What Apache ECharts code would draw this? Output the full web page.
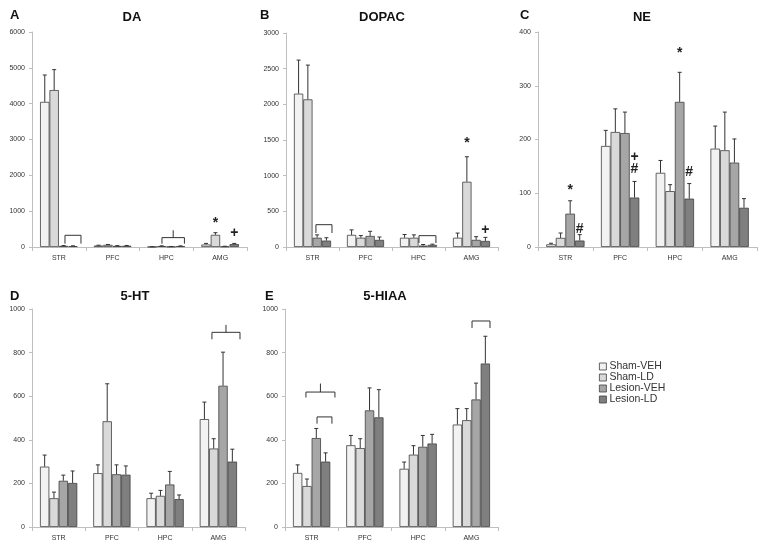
<!DOCTYPE html>
<html>
<head>
<meta charset="utf-8">
<script src="https://cdn.jsdelivr.net/npm/echarts@6/dist/echarts.min.js"></script>
<style>
html,body{margin:0;padding:0;background:#fff;}
#chart{width:760px;height:548px;}
</style>
</head>
<body>
<div id="chart"></div>
<script>
// ---- data ----
const categories = ['STR', 'PFC', 'HPC', 'AMG'];
const groups = ['Sham-VEH', 'Sham-LD', 'Lesion-VEH', 'Lesion-LD'];

// DA
const daMean = [[4050, 40, 5, 70], [4380, 60, 25, 340], [30, 30, 10, 15], [25, 35, 25, 80]];
const daErr  = [[750, 10, 3, 30], [570, 10, 8, 60], [10, 8, 4, 6], [8, 8, 6, 20]];
// DOPAC
const dopacMean = [[2150, 170, 130, 130], [2070, 130, 130, 915], [130, 155, 20, 100], [90, 100, 30, 85]];
const dopacErr  = [[470, 70, 45, 65], [480, 30, 40, 350], [40, 65, 15, 45], [40, 40, 10, 50]];
// NE
const neMean = [[5, 188, 138, 183], [17, 214, 104, 180], [62, 212, 270, 157], [12, 92, 90, 73]];
const neErr  = [[2, 29, 23, 42], [9, 43, 12, 71], [24, 39, 55, 44], [11, 30, 28, 17]];
// 5-HT
const htMean = [[277, 247, 132, 495], [132, 485, 143, 360], [212, 242, 195, 648], [202, 240, 128, 300]];
const htErr  = [[53, 38, 23, 78], [28, 172, 25, 45], [26, 43, 60, 154], [55, 40, 19, 57]];
// 5-HIAA
const hiaaMean = [[248, 375, 267, 470], [188, 362, 332, 490], [408, 535, 368, 585], [300, 503, 383, 750]];
const hiaaErr  = [[37, 45, 31, 73], [32, 43, 41, 53], [44, 103, 52, 75], [40, 127, 42, 125]];

// significance symbols: [category, bar index, y value, text]
const daMarks = [[3, 1, 654, '*'], [3, 3, 393, '+']];
const dopacMarks = [[3, 1, 1458, '*'], [3, 3, 243, '+']];
const neMarks = [[0, 2, 105, '*'], [0, 3, 33, '#'], [1, 3, 167, '+'], [1, 3, 145, '#'], [2, 2, 361, '*'], [2, 3, 139, '#']];
const htMarks = [];
const hiaaMarks = [];

// brackets: [category, from (bar units), to (bar units), top value, end value, middle tick value or -1]
const daBrackets = [[0, 2.65, 4.35, 327, 93, -1], [2, 1.53, 3.92, 262, 93, 467]];
const dopacBrackets = [[0, 2.37, 4.1, 313, 196, -1], [2, 2.05, 3.88, 159, 56, -1]];
const neBrackets = [];
const htBrackets = [[3, 1.31, 4.32, 893, 861, 927]];
const hiaaBrackets = [[0, 1.39, 4.5, 619, 594, 658], [0, 2.58, 4.18, 505, 474, -1], [3, 2.07, 4.0, 945, 913, -1]];

const panelTitles = ['DA', 'DOPAC', 'NE', '5-HT', '5-HIAA'];
const panelLetters = ['A', 'B', 'C', 'D', 'E'];
const yMax = [6000, 3000, 400, 1000, 1000];
const yStep = [1000, 500, 100, 200, 200];

// ---- styling / layout ----
const colors = ['#f2f2f2', '#d9d9d9', '#a6a6a6', '#7f7f7f'];
const grids = [
  {left: 32, top: 32, width: 215, height: 215},
  {left: 286, top: 33, width: 212, height: 214},
  {left: 538, top: 32, width: 219, height: 215},
  {left: 32, top: 309, width: 213, height: 218},
  {left: 285, top: 309, width: 213, height: 218}
];
const titlePos = [[127, 6], [377, 6], [637, 6], [130, 285], [380, 285]];
const letterPos = [[5, 4], [255, 4], [515, 4], [5, 285], [260, 285]];
const GAP = 0.3;
const FONT = 'Liberation Sans';

const panels = [
  [daMean, daErr, daMarks, daBrackets],
  [dopacMean, dopacErr, dopacMarks, dopacBrackets],
  [neMean, neErr, neMarks, neBrackets],
  [htMean, htErr, htMarks, htBrackets],
  [hiaaMean, hiaaErr, hiaaMarks, hiaaBrackets]
];

function geom(api, c) {
  const catW = api.size([1, 0])[0];
  const barW = catW * (1 - GAP) / 4;
  const start = api.coord([c, 0])[0] - catW * (1 - GAP) / 2;
  return {barW, start};
}

function errRender(params, api) {
  const c = api.value(0), s = api.value(1);
  const g = geom(api, c);
  const cx = g.start + g.barW * (s + 0.5);
  const y0 = api.coord([c, api.value(2)])[1];
  const y1 = api.coord([c, api.value(3)])[1];
  const st = {stroke: '#333', lineWidth: 1};
  return {type: 'group', children: [
    {type: 'line', shape: {x1: cx, y1: y0, x2: cx, y2: y1}, style: st},
    {type: 'line', shape: {x1: cx - 2, y1: y1, x2: cx + 2, y2: y1}, style: st}
  ]};
}

function markRender(params, api) {
  const c = api.value(0), s = api.value(1);
  const g = geom(api, c);
  const cx = g.start + g.barW * (s + 0.5);
  const y = api.coord([c, api.value(2)])[1];
  return {type: 'text', style: {text: api.value(3), x: cx, y: y, fill: '#222',
    font: 'bold 14px ' + FONT, align: 'center', verticalAlign: 'middle'}};
}

function bracketRender(params, api) {
  const c = api.value(0);
  const g = geom(api, c);
  const x1 = g.start + g.barW * api.value(1);
  const x2 = g.start + g.barW * api.value(2);
  const yt = api.coord([c, api.value(3)])[1];
  const ye = api.coord([c, api.value(4)])[1];
  const st = {stroke: '#333', lineWidth: 1, fill: null};
  const ch = [{type: 'polyline', shape: {points: [[x1, ye], [x1, yt], [x2, yt], [x2, ye]]}, style: st}];
  if (api.value(5) >= 0) {
    const ym = api.coord([c, api.value(5)])[1];
    const xm = (x1 + x2) / 2;
    ch.push({type: 'line', shape: {x1: xm, y1: yt, x2: xm, y2: ym}, style: st});
  }
  return {type: 'group', children: ch};
}

const title = [];
const xAxis = [], yAxis = [], series = [];
panels.forEach((p, i) => {
  title.push({text: panelTitles[i], left: titlePos[i][0], top: titlePos[i][1], textAlign: 'center',
    textStyle: {fontSize: 13, fontWeight: 'bold', fontFamily: FONT, color: '#111'}});
  title.push({text: panelLetters[i], left: letterPos[i][0], top: letterPos[i][1],
    textStyle: {fontSize: 13, fontWeight: 'bold', fontFamily: FONT, color: '#111'}});
  xAxis.push({type: 'category', gridIndex: i, data: categories,
    axisLine: {lineStyle: {color: '#bfbfbf'}},
    axisTick: {show: true, length: 4, lineStyle: {color: '#bfbfbf'}},
    axisLabel: {fontSize: 7, color: '#333', margin: 8, fontFamily: FONT}});
  yAxis.push({type: 'value', gridIndex: i, min: 0, max: yMax[i], interval: yStep[i],
    splitLine: {show: false},
    axisLine: {show: true, lineStyle: {color: '#bfbfbf'}},
    axisTick: {show: true, length: 3, lineStyle: {color: '#bfbfbf'}},
    axisLabel: {fontSize: 7, color: '#333', margin: 7, fontFamily: FONT, formatter: v => String(v)}});
  const mean = p[0], err = p[1];
  groups.forEach((gName, s) => {
    series.push({type: 'bar', name: gName, xAxisIndex: i, yAxisIndex: i,
      data: mean[s], barGap: '0%', barCategoryGap: (GAP * 100) + '%',
      itemStyle: {color: colors[s], borderColor: '#404040', borderWidth: 0.8},
      emphasis: {disabled: true}, animation: false});
  });
  const errData = [];
  for (let s = 0; s < 4; s++) for (let c = 0; c < 4; c++) errData.push([c, s, mean[s][c], mean[s][c] + err[s][c]]);
  series.push({type: 'custom', name: 'err' + i, xAxisIndex: i, yAxisIndex: i, data: errData,
    renderItem: errRender, encode: {x: 0, y: 3}, z: 5, clip: false, silent: true, animation: false});
  if (p[2].length) series.push({type: 'custom', name: 'mark' + i, xAxisIndex: i, yAxisIndex: i, data: p[2],
    renderItem: markRender, encode: {x: 0, y: 2}, z: 6, clip: false, silent: true, animation: false});
  if (p[3].length) series.push({type: 'custom', name: 'br' + i, xAxisIndex: i, yAxisIndex: i, data: p[3],
    renderItem: bracketRender, encode: {x: 0, y: 3}, z: 6, clip: false, silent: true, animation: false});
});

const chart = echarts.init(document.getElementById('chart'), null, {renderer: 'canvas'});
chart.setOption({
  backgroundColor: '#fff',
  animation: false,
  title: title,
  grid: grids,
  xAxis: xAxis,
  yAxis: yAxis,
  legend: {data: groups.map(n => ({name: n, icon: 'rect'})), orient: 'vertical', left: 599, top: 361,
    padding: 0, itemWidth: 7, itemHeight: 7, itemGap: 0,
    selectedMode: false, textStyle: {fontSize: 10.5, color: '#333', fontFamily: FONT, padding: [0, 0, 0, -2]},
    itemStyle: {borderColor: '#404040', borderWidth: 0.8}},
  series: series
});
</script>
</body>
</html>
